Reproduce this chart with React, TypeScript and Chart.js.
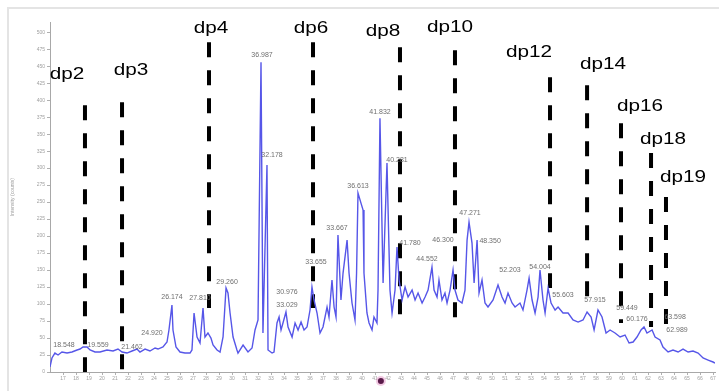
import React, { useEffect, useRef } from "react";
import { Chart, registerables } from "chart.js";

Chart.register(...registerables);

// Chromatogram: retention time (min) vs intensity
const retentionTimes = [
  16.0, 16.15, 16.38, 16.62, 16.92, 17.31, 17.69, 18.08, 18.31, 18.54, 18.85, 19.08, 19.46, 19.85,
  20.38, 20.85, 21.23, 21.54, 21.92, 22.31, 22.69, 22.92, 23.31, 23.69, 24.08, 24.31, 24.69, 25.0,
  25.15, 25.38, 25.46, 25.69, 26.0, 26.38, 26.77, 26.92, 27.08, 27.31, 27.54, 27.77, 27.92, 28.15,
  28.38, 28.54, 28.85, 29.08, 29.31, 29.54, 29.69, 29.85, 30.08, 30.38, 30.46, 30.85, 31.23, 31.54,
  31.77, 32.0, 32.23, 32.38, 32.69, 32.77, 33.08, 33.23, 33.46, 33.62, 33.77, 33.92, 34.15, 34.31,
  34.62, 34.85, 35.08, 35.31, 35.54, 35.77, 36.0, 36.15, 36.31, 36.54, 36.77, 37.0, 37.31, 37.46,
  37.69, 37.85, 38.0, 38.15, 38.38, 38.54, 38.85, 39.0, 39.23, 39.46, 39.58, 39.69, 39.92, 40.08,
  40.15, 40.38, 40.54, 40.77, 40.92, 41.15, 41.23, 41.38, 41.62, 41.92, 42.15, 42.31, 42.54, 42.69,
  42.85, 43.08, 43.31, 43.54, 43.85, 44.08, 44.31, 44.62, 44.85, 45.08, 45.38, 45.54, 45.77, 45.92,
  46.15, 46.38, 46.54, 46.77, 47.0, 47.15, 47.38, 47.69, 47.92, 48.08, 48.23, 48.46, 48.62, 48.85,
  49.0, 49.23, 49.46, 49.69, 50.08, 50.46, 50.77, 51.0, 51.23, 51.54, 51.77, 52.15, 52.38, 52.69,
  52.85, 53.08, 53.31, 53.54, 53.69, 53.92, 54.08, 54.31, 54.54, 54.85, 55.08, 55.46, 55.85, 56.23,
  56.62, 57.0, 57.31, 57.62, 57.85, 58.15, 58.46, 58.77, 59.08, 59.46, 59.85, 60.23, 60.54, 60.85,
  61.15, 61.46, 61.69, 61.92, 62.31, 62.54, 62.92, 63.15, 63.54, 63.92, 64.31, 64.69, 65.08, 65.46,
  65.85, 66.23, 66.62, 67.0, 67.15,
];
const intensities = [
  7.4, 20.6, 27.9, 25.0, 29.4, 27.9, 29.4, 32.4, 33.8, 36.8, 36.8, 32.4, 29.4, 29.4,
  32.4, 30.9, 33.8, 29.4, 27.9, 30.9, 33.8, 29.4, 33.8, 30.9, 35.3, 33.8, 36.8, 44.1,
  61.8, 98.5, 61.8, 36.8, 29.4, 27.9, 27.9, 32.4, 86.8, 51.5, 42.6, 94.1, 51.5, 57.4,
  50.0, 39.7, 32.4, 29.4, 51.5, 123.5, 116.2, 86.8, 51.5, 32.4, 27.9, 39.7, 29.4, 35.3,
  61.8, 76.5, 455.9, 57.4, 304.4, 32.4, 27.9, 29.4, 72.1, 80.9, 61.8, 72.1, 88.2, 66.2,
  51.5, 72.1, 61.8, 73.5, 61.8, 66.2, 91.2, 125.0, 105.9, 86.8, 57.4, 66.2, 95.6, 80.9,
  135.3, 95.6, 80.9, 201.5, 105.9, 145.6, 194.1, 145.6, 101.5, 76.5, 145.6, 263.2, 248.5, 238.2,
  145.6, 86.8, 72.1, 61.8, 80.9, 72.1, 120.6, 373.5, 130.9, 307.4, 120.6, 86.8, 120.6, 183.8,
  135.3, 105.9, 125.0, 110.3, 120.6, 105.9, 116.2, 101.5, 110.3, 120.6, 154.4, 120.6, 110.3, 135.3,
  105.9, 116.2, 101.5, 120.6, 150.0, 120.6, 105.9, 101.5, 120.6, 194.1, 220.6, 189.7, 130.9, 194.1,
  116.2, 135.3, 101.5, 95.6, 105.9, 127.9, 110.3, 101.5, 116.2, 101.5, 95.6, 101.5, 91.2, 120.6,
  138.2, 105.9, 86.8, 110.3, 150.0, 105.9, 86.8, 123.5, 101.5, 91.2, 95.6, 86.8, 86.8, 76.5,
  73.5, 76.5, 88.2, 80.9, 61.8, 91.2, 80.9, 57.4, 61.8, 57.4, 51.5, 54.4, 42.6, 44.1,
  51.5, 61.8, 66.2, 57.4, 61.8, 51.5, 47.1, 36.8, 29.4, 32.4, 29.4, 33.8, 29.4, 30.9,
  27.9, 20.6, 17.6, 14.7, 13.2,
];

// Degree-of-polymerisation markers
const dpNames = ["dp2", "dp3", "dp4", "dp6", "dp8", "dp10", "dp12", "dp14", "dp16", "dp18", "dp19"];
const dpTimes = [18.69, 21.54, 28.23, 36.23, 42.92, 47.15, 54.46, 57.31, 59.92, 62.23, 63.38];
const dpTops = [392.6, 397.1, 485.3, 485.3, 477.9, 473.5, 433.8, 422.1, 366.2, 322.1, 257.4];
const dpBottoms = [0, 0, 94.1, 94.1, 83.8, 79.4, 123.5, 110.3, 72.1, 66.2, 66.2];
const dpLabelTimes = [17.31, 22.23, 28.38, 36.08, 41.62, 46.77, 52.85, 58.54, 61.38, 63.15, 64.69];
const dpLabelValues = [431.6, 437.5, 499.3, 499.3, 494.9, 500.7, 464.0, 446.3, 384.6, 336.0, 280.1];

// Peak annotations (retention times printed by the instrument)
const peakTexts = [
  "18.548", "19.559", "21.462", "24.920", "26.174", "27.810", "29.260", "36.987", "32.178",
  "30.976", "33.029", "33.655", "33.667", "36.613", "41.832", "40.281", "41.780", "44.552",
  "46.300", "47.271", "48.350", "52.203", "54.004", "55.603", "57.915", "59.449", "60.176",
  "63.598", "62.989",
];
const peakTimes = [
  17.08, 19.69, 22.31, 23.85, 25.38, 27.54, 29.62, 32.31, 33.08,
  34.23, 34.23, 36.46, 38.08, 39.69, 41.38, 42.69, 43.69, 45.0,
  46.23, 48.31, 49.85, 51.38, 53.69, 55.46, 57.92, 60.38, 61.15,
  64.08, 64.23,
];
const peakValues = [
  39.7, 39.7, 36.8, 57.4, 110.3, 108.8, 132.4, 466.2, 319.1,
  117.6, 98.5, 161.8, 211.8, 273.5, 382.4, 311.8, 189.7, 166.2,
  194.1, 233.8, 192.6, 150.0, 154.4, 113.2, 105.9, 94.1, 77.9,
  80.9, 61.8,
];

const markerTimes = [41.45];

const xMin = 16;
const xMax = 67.15;
const yMin = 0;
const yMax = 515;
const yStep = 25;

export default function App() {
  const canvasRef = useRef<HTMLCanvasElement | null>(null);

  useEffect(() => {
    const canvas = canvasRef.current;
    if (!canvas) return;

    const traceData = retentionTimes.map((t, i) => ({ x: t, y: intensities[i] }));
    const dpDatasets = dpNames.map((name, i) => ({
      label: name,
      data: [
        { x: dpTimes[i], y: dpTops[i] },
        { x: dpTimes[i], y: dpBottoms[i] },
      ],
      borderColor: "#000000",
      borderWidth: 4,
      borderDash: [15, 13],
      borderCapStyle: "butt" as const,
      pointRadius: 0,
      fill: false,
    }));

    const framePlugin = {
      id: "frame",
      beforeDraw(chart: any) {
        const { ctx, width, height } = chart;
        ctx.save();
        ctx.fillStyle = "#ffffff";
        ctx.fillRect(0, 0, width, height);
        ctx.strokeStyle = "#e4e4e4";
        ctx.lineWidth = 2;
        ctx.beginPath();
        ctx.moveTo(8, height);
        ctx.lineTo(8, 8);
        ctx.lineTo(width, 8);
        ctx.stroke();
        ctx.restore();
      },
    };

    const labelPlugin = {
      id: "labels",
      afterDatasetsDraw(chart: any) {
        const { ctx, scales, chartArea } = chart;
        const xs = scales.x;
        const ys = scales.y;
        ctx.save();
        // peak labels
        ctx.font = "7px 'Liberation Sans', Arial, sans-serif";
        ctx.fillStyle = "#6f6f6f";
        ctx.textAlign = "center";
        ctx.textBaseline = "middle";
        peakTexts.forEach((txt, i) => {
          ctx.fillText(txt, xs.getPixelForValue(peakTimes[i]), ys.getPixelForValue(peakValues[i]));
        });
        // dp labels
        ctx.font = "17px 'Liberation Sans', Arial, sans-serif";
        ctx.fillStyle = "#000000";
        ctx.textBaseline = "alphabetic";
        dpNames.forEach((name, i) => {
          const px = xs.getPixelForValue(dpLabelTimes[i]);
          const py = ys.getPixelForValue(dpLabelValues[i]);
          ctx.save();
          ctx.translate(px, py);
          ctx.scale(1.22, 1);
          ctx.fillText(name, 0, 0);
          ctx.restore();
        });
        // cursor marker on the time axis
        markerTimes.forEach((t) => {
          const px = xs.getPixelForValue(t);
          ctx.beginPath();
          ctx.fillStyle = "rgba(230,150,200,0.5)";
          ctx.arc(px, chartArea.bottom + 9, 5, 0, Math.PI * 2);
          ctx.fill();
          ctx.beginPath();
          ctx.fillStyle = "#5a1a4a";
          ctx.arc(px, chartArea.bottom + 9, 3, 0, Math.PI * 2);
          ctx.fill();
        });
        ctx.restore();
      },
    };

    const chart = new Chart(canvas, {
      type: "line",
      data: {
        datasets: [
          {
            label: "Chromatogram",
            data: traceData,
            borderColor: "#5656e8",
            borderWidth: 1.4,
            pointRadius: 0,
            tension: 0,
            fill: false,
          },
          ...dpDatasets,
        ],
      },
      options: {
        responsive: false,
        animation: false,
        devicePixelRatio: 1,
        layout: { padding: { left: 0, right: 4, top: 22, bottom: 0 } },
        plugins: {
          legend: { display: false },
          tooltip: { enabled: false },
        },
        scales: {
          x: {
            type: "linear",
            min: xMin,
            max: xMax,
            afterBuildTicks(scale: any) {
              const ticks = [];
              for (let v = Math.ceil(xMin + 0.5); v <= xMax; v++) ticks.push({ value: v });
              scale.ticks = ticks;
            },
            afterFit(scale: any) {
              scale.height = 19;
            },
            ticks: {
              autoSkip: false,
              maxRotation: 0,
              padding: 1,
              color: "#a0a0a0",
              font: { size: 5, family: "'Liberation Sans', Arial, sans-serif" },
              callback: (v: any) => String(v),
            },
            grid: { drawOnChartArea: false, drawTicks: true, tickLength: 3, color: "#b0b0b0" },
            border: { color: "#a8a8a8", width: 1 },
          },
          y: {
            type: "linear",
            min: yMin,
            max: yMax,
            afterBuildTicks(scale: any) {
              const ticks = [];
              for (let v = yMin; v <= yMax; v += yStep) ticks.push({ value: v });
              scale.ticks = ticks;
            },
            afterFit(scale: any) {
              scale.width = 50;
            },
            ticks: {
              padding: 2,
              color: "#a0a0a0",
              font: { size: 5, family: "'Liberation Sans', Arial, sans-serif" },
            },
            title: {
              display: true,
              text: "Intensity (counts)",
              color: "#a0a0a0",
              font: { size: 5, family: "'Liberation Sans', Arial, sans-serif" },
              padding: { top: 10, bottom: 0 },
            },
            grid: { drawOnChartArea: false, drawTicks: true, tickLength: 3, color: "#b0b0b0" },
            border: { color: "#a8a8a8", width: 1 },
          },
        },
      },
      plugins: [framePlugin, labelPlugin],
    });

    return () => chart.destroy();
  }, []);

  return (
    <div style={{ position: "fixed", left: 0, top: 0, width: 719, height: 391, background: "#fff" }}>
      <canvas ref={canvasRef} width={719} height={391} style={{ display: "block" }} />
    </div>
  );
}
